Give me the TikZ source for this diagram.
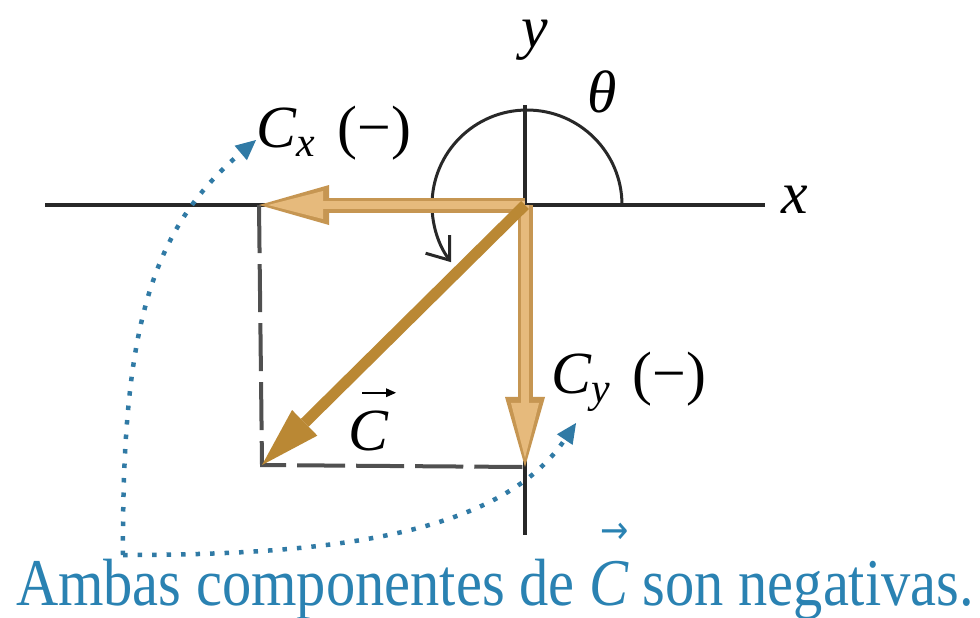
\documentclass[tikz,border=0pt]{standalone}
\usepackage{fontspec}
\setmainfont{Liberation Serif}
\newfontfamily\arrowfont{DejaVu Sans}
\usetikzlibrary{arrows.meta}
\definecolor{axisgray}{RGB}{40,40,40}
\definecolor{dashgray}{RGB}{80,80,80}
\definecolor{tanedge}{RGB}{198,150,82}
\definecolor{tanfill}{RGB}{230,186,124}
\definecolor{cdark}{RGB}{186,136,52}
\definecolor{hintblue}{RGB}{48,122,165}
\definecolor{capblue}{RGB}{42,130,178}
% italic C with a small arrow well above it
\newcommand{\vecC}[1][0.75em]{\leavevmode\rlap{\hspace{0.2em}\raisebox{#1}{\arrowfont\fontsize{11}{11}\selectfont →}}{\itshape C}}
\tikzset{
  axisline/.style={draw=axisgray, line width=0.035cm},
  guide/.style={draw=dashgray, line width=0.04cm, dash pattern=on 0.48cm off 0.11cm},
  compedge/.style={draw=tanedge, line width=0.15cm,
    -{Triangle[length=0.7cm, width=0.4cm, line width=0pt]}},
  compfill/.style={draw=tanfill, line width=0.08cm, shorten >=0.09cm,
    -{Triangle[length=0.55cm, width=0.28cm, line width=0pt]}},
  resultant/.style={draw=cdark, line width=0.11cm,
    -{Triangle[length=0.6cm, width=0.36cm, line width=0pt]}},
  vecmark/.style={draw=black, line width=0.022cm,
    -{Triangle[length=0.1cm, width=0.09cm, line width=0pt]}},
  hint/.style={draw=hintblue, line width=0.045cm, dash pattern=on 0.045cm off 0.1cm,
    -{Triangle[length=0.2cm, width=0.19cm, line width=0pt]}},
  anglearc/.style={draw=axisgray, line width=0.03cm,
    -{Straight Barb[length=0.2cm, width=0.3cm]}},
  lbl/.style={font=\fontsize{17}{20}\selectfont, inner sep=0pt, anchor=base west},
}
\begin{document}
\begin{tikzpicture}[x=0.01cm, y=-0.01cm]
  \useasboundingbox (0,0) rectangle (980,617);
  \fill[white] (0,0) rectangle (980,617);

  % points
  \coordinate (O) at (525,205);
  \coordinate (X) at (259,205);
  \coordinate (Y) at (525,467);
  \coordinate (P) at (262,465);
  \coordinate (xl) at (45,205);
  \coordinate (xr) at (765,205);
  \coordinate (yt) at (525,105);
  \coordinate (yb) at (525,535);
  \coordinate (corner) at (123,555);
  \coordinate (tipx) at (256,140);
  \coordinate (tipy) at (576,423);

  % axes
  \draw[axisline] (xl) -- (xr);
  \draw[axisline] (yt) -- (yb);
  \node[lbl] (xlab) at (781,213) {\itshape x};
  \node[lbl] (ylab) at (521,47) {\itshape y};

  % angle theta
  \draw[anglearc] (622,205) arc[start angle=0, end angle=-217, radius=95];
  \node[lbl] (thlab) at (587,112) {\itshape θ};

  % dashed box
  \draw[guide] (X) -- (P) -- (Y);

  % components
  \draw[compedge] (O) -- (X);
  \draw[compfill] (O) -- (X);
  \draw[compedge] (O) -- (Y);
  \draw[compfill] (O) -- (Y);

  % vector C
  \draw[resultant] (O) -- (P);

  % labels
  \node[lbl] (cxlab) at (256,147) {{\itshape C\textsubscript{x}}\hspace{0.35em}(−)};
  \node[lbl] (cylab) at (551,393) {{\itshape C\textsubscript{y}}\hspace{0.35em}(−)};
  \node[lbl] (clab) at (348,450) {\itshape C};
  \draw[vecmark] ([shift={(14,-17)}]clab.north west) -- ++(34,0);

  % blue hints
  \draw[hint] (corner) .. controls (122,330) and (150,230) .. (tipx);
  \draw[hint] (corner) .. controls (330,555) and (500,535) .. (tipy);
  \node[font=\fontsize{19}{22}\selectfont, text=capblue, inner sep=0pt, anchor=base]
    (caption) at (495,605) {\scalebox{0.875}[1]{Ambas componentes de \vecC[0.92em]\ son negativas.}};
\end{tikzpicture}
\end{document}
